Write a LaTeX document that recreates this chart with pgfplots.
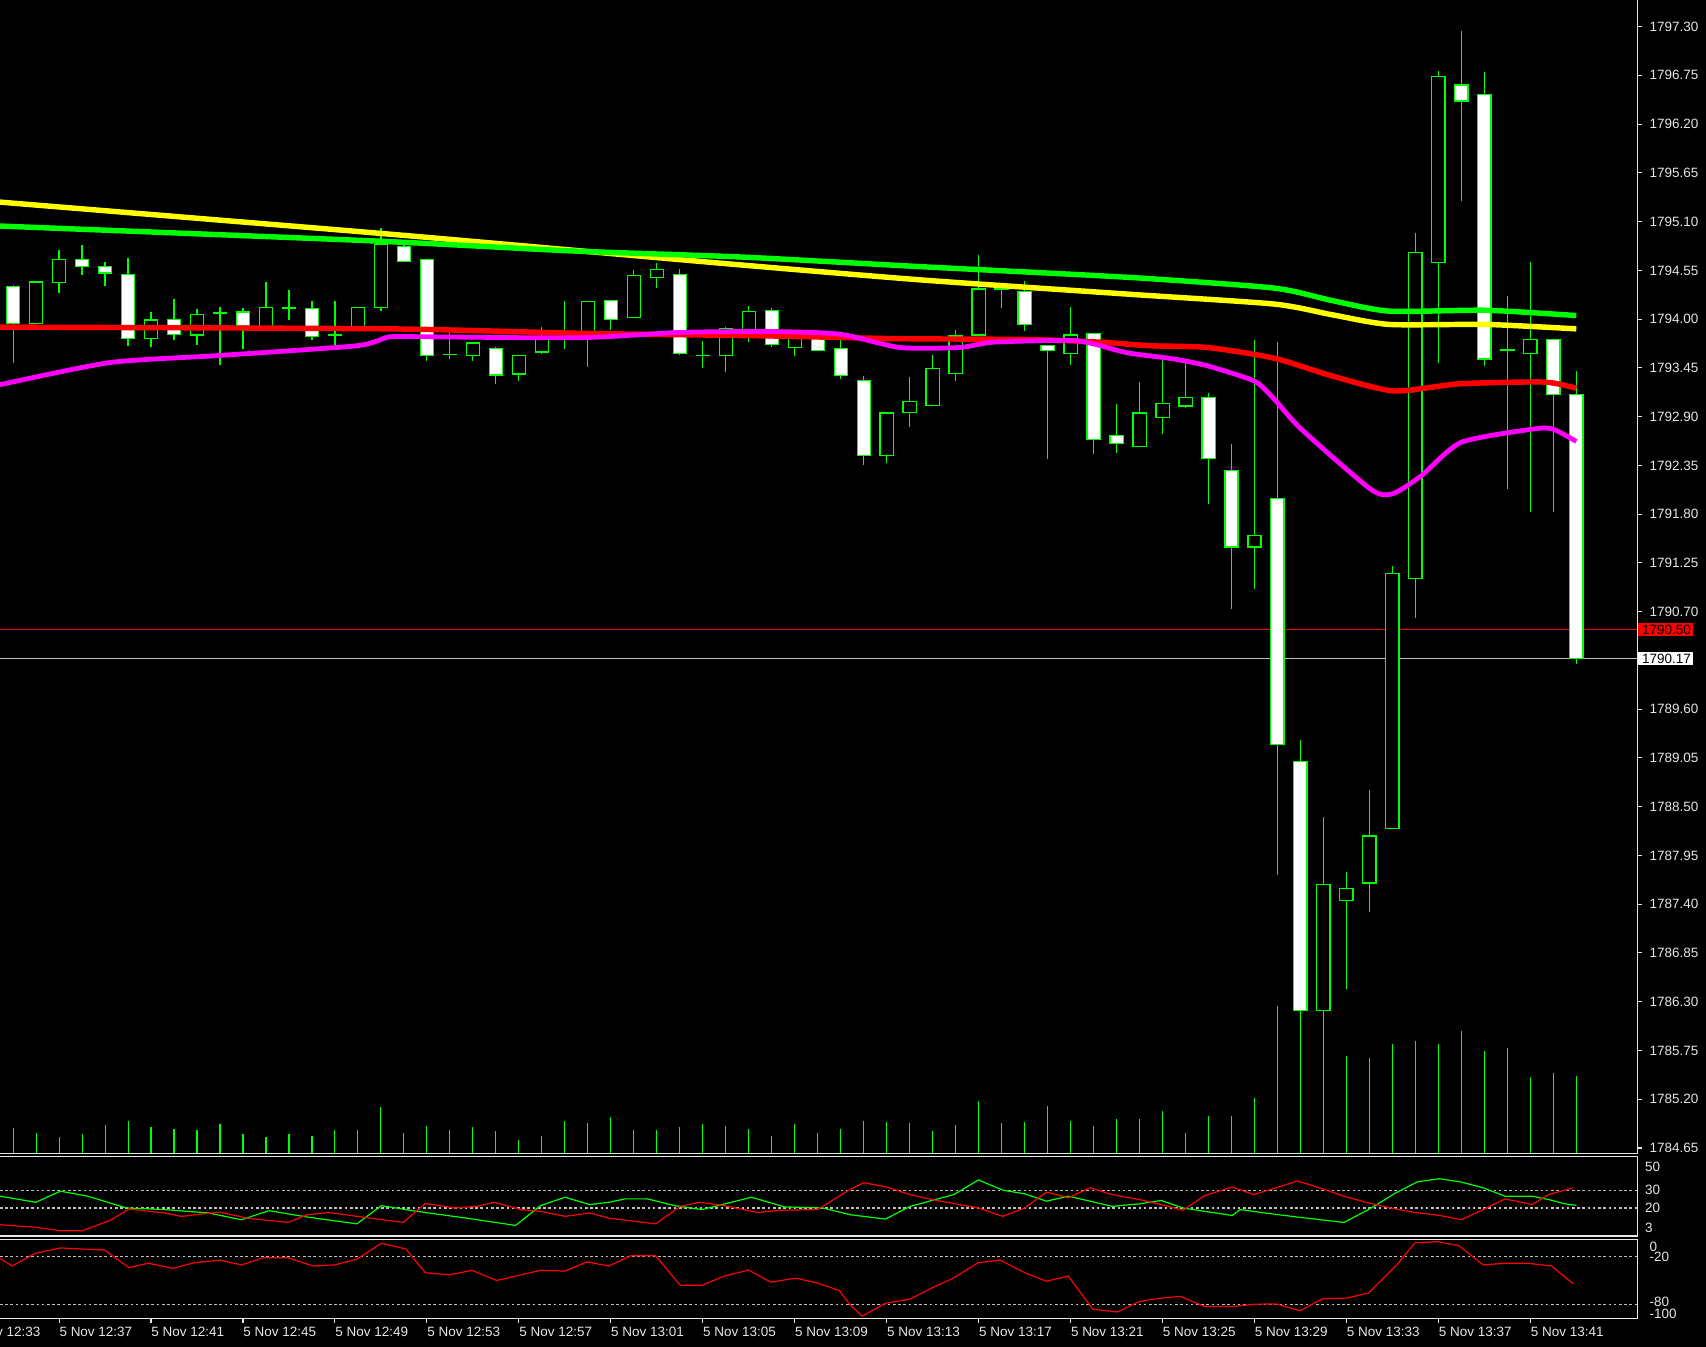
\documentclass[border=0pt]{standalone}
\usepackage{pgfplots}
\usepackage{pgfplotstable}
\pgfplotsset{compat=1.18}
\usepackage{fontspec}
\setmainfont{Liberation Sans}
\definecolor{lime}{RGB}{0,255,0}
\definecolor{yel}{RGB}{255,255,0}
\definecolor{mag}{RGB}{255,0,255}
\definecolor{fg}{RGB}{230,230,230}
\definecolor{lgray}{RGB}{192,192,192}
\newcommand\tfont{\fontsize{6.2}{7}\selectfont}
\pgfplotstableread{
i O H L C
1 1793.95 1794.42 1793.95 1794.42
2 1794.41 1794.78 1794.30 1794.67
6 1793.78 1794.08 1793.68 1793.99
8 1793.82 1794.11 1793.71 1794.05
9 1794.07 1794.14 1793.48 1794.07
11 1793.92 1794.42 1793.92 1794.13
12 1794.12 1794.33 1793.99 1794.13
14 1793.82 1794.20 1793.71 1793.83
15 1793.90 1794.14 1793.90 1794.13
16 1794.13 1795.03 1794.09 1794.84
19 1793.60 1793.84 1793.55 1793.60
20 1793.59 1793.73 1793.53 1793.73
22 1793.38 1793.59 1793.30 1793.59
23 1793.63 1793.91 1793.61 1793.77
24 1793.80 1794.21 1793.66 1793.85
25 1793.83 1794.20 1793.46 1794.20
27 1794.02 1794.55 1794.02 1794.49
28 1794.47 1794.63 1794.35 1794.56
30 1793.59 1793.75 1793.45 1793.59
31 1793.59 1793.91 1793.40 1793.89
32 1793.88 1794.15 1793.74 1794.09
34 1793.68 1793.85 1793.58 1793.79
38 1792.46 1792.94 1792.38 1792.94
39 1792.95 1793.35 1792.78 1793.07
40 1793.03 1793.59 1793.03 1793.44
41 1793.39 1793.88 1793.30 1793.81
42 1793.82 1794.72 1793.82 1794.34
43 1794.33 1794.36 1794.12 1794.34
46 1793.61 1794.14 1793.48 1793.82
49 1792.56 1793.29 1792.56 1792.94
50 1792.89 1793.55 1792.70 1793.05
51 1793.02 1793.52 1793.00 1793.12
54 1791.43 1793.76 1790.96 1791.56
57 1786.20 1788.38 1786.18 1787.62
58 1787.44 1787.76 1786.44 1787.58
59 1787.64 1788.69 1787.31 1788.17
60 1788.25 1791.22 1788.25 1791.13
61 1791.07 1794.97 1790.63 1794.75
62 1794.64 1796.80 1793.51 1796.74
65 1793.65 1794.26 1792.08 1793.66
66 1793.61 1794.64 1791.82 1793.77
}\bull
\pgfplotstableread{
i O H L C
0 1794.37 1794.38 1793.51 1793.95
3 1794.67 1794.84 1794.50 1794.59
4 1794.59 1794.64 1794.37 1794.52
5 1794.50 1794.69 1793.70 1793.78
7 1794.00 1794.23 1793.76 1793.83
10 1794.08 1794.13 1793.66 1793.93
13 1794.12 1794.20 1793.76 1793.80
17 1794.82 1794.85 1794.64 1794.65
18 1794.67 1794.67 1793.53 1793.59
21 1793.67 1793.69 1793.27 1793.37
26 1794.21 1794.21 1793.88 1794.00
29 1794.50 1794.57 1793.59 1793.61
33 1794.10 1794.12 1793.69 1793.71
35 1793.78 1793.88 1793.65 1793.65
36 1793.67 1793.77 1793.32 1793.36
37 1793.31 1793.36 1792.35 1792.46
44 1794.31 1794.43 1793.87 1793.94
45 1793.70 1793.71 1792.42 1793.65
47 1793.84 1793.84 1792.48 1792.64
48 1792.69 1793.04 1792.49 1792.60
52 1793.12 1793.17 1791.92 1792.43
53 1792.29 1792.59 1790.73 1791.43
55 1791.98 1793.74 1787.73 1789.20
56 1789.01 1789.25 1786.18 1786.20
63 1796.64 1797.25 1795.33 1796.46
64 1796.53 1796.79 1793.47 1793.55
67 1793.77 1793.77 1791.82 1793.15
68 1793.15 1793.41 1790.11 1790.17
}\bear
\pgfplotsset{panel/.style={scale only axis, anchor=south west, width=752.5pt,
  xmin=-0.57, xmax=70.66, axis line style={draw=none}, clip mode=individual,
  tick style={draw=fg, line width=0.5pt}, ticklabel style={font=\tfont, text=fg}},
  bar/.style 2 args={draw=none, mark=none, error bars/.cd, y dir=both, y explicit,
    error mark=none, error bar style={draw=#1, line width=#2, solid}}}
% wick, outer body, inner body for a table
\newcommand\drawcandles[2]{%
  \addplot[bar={lime}{0.55pt}] table[x=i, y=L, y error plus expr={\thisrow{H}-\thisrow{L}}, y error minus expr={0}] {#1};
  \addplot[bar={lime}{6.6pt}] table[x=i, y expr={min(\thisrow{O},\thisrow{C})-0.0068}, y error plus expr={abs(\thisrow{C}-\thisrow{O})+0.0136}, y error minus expr={0}] {#1};
  \addplot[bar={#2}{5.5pt}] table[x=i, y expr={min(\thisrow{O},\thisrow{C})+0.0068}, y error plus expr={max(abs(\thisrow{C}-\thisrow{O})-0.0136,0)}, y error minus expr={0}] {#1};
}
\begin{document}
\begin{tikzpicture}
\useasboundingbox (0,0) rectangle (784pt,619pt);
\fill[black] (0,0) rectangle (784pt,619pt);
% ---------- volume ----------
\begin{axis}[panel, at={(0pt,89pt)}, height=530pt, ymin=0, ymax=1060, hide axis]
\addplot[ycomb, draw=lime, line width=0.5pt, mark=none] table {
x v
0 23
1 19
2 14.7
3 17.8
4 25.7
5 29.7
6 24.2
7 22.7
8 21.4
9 27
10 17.8
11 14.7
12 17.8
13 15.9
14 21.4
15 21.4
16 42.9
17 19
18 25.1
19 21.4
20 23.9
21 20.5
22 12.3
23 15.9
24 29.7
25 28.2
26 33.1
27 21.4
28 21.4
29 23.9
30 27
31 25.1
32 22.7
33 15.9
34 27
35 19
36 22.7
37 30
38 29.1
39 27.6
40 20.8
41 26.3
42 48
43 27.6
44 29.1
45 43.8
46 30
47 24.8
48 31.6
49 31.6
50 39.2
51 18.4
52 34.3
53 34.3
54 50.5
55 135
56 132
57 132
58 89
59 88
60 100
61 103.5
62 100
63 112.7
64 94
65 97
66 70
67 74
68 71
};
\end{axis}
% ---------- price ----------
\begin{axis}[panel, at={(0pt,89pt)}, height=530pt, ymin=1784.59, ymax=1797.60,
  xtick=\empty, ytick pos=right, yticklabel pos=right, tick align=outside, major tick length=2pt,
  ytick={1784.65,1785.20,1785.75,1786.30,1786.85,1787.40,1787.95,1788.50,1789.05,1789.60,1790.70,1791.25,1791.80,1792.35,1792.90,1793.45,1794.00,1794.55,1795.10,1795.65,1796.20,1796.75,1797.30},
  yticklabels={1784.65,1785.20,1785.75,1786.30,1786.85,1787.40,1787.95,1788.50,1789.05,1789.60,1790.70,1791.25,1791.80,1792.35,1792.90,1793.45,1794.00,1794.55,1795.10,1795.65,1796.20,1796.75,1797.30}]
\addplot[red, line width=0.5pt] coordinates {(-0.57,1790.50) (70.66,1790.50)};
\addplot[lgray, line width=0.5pt] coordinates {(-0.57,1790.17) (70.66,1790.17)};
\drawcandles{\bull}{black}
\drawcandles{\bear}{white}
% moving averages
\addplot[yel, line width=2.5pt, line join=round, smooth, tension=0.4] coordinates {(-0.57,1795.32) (15.85,1794.97) (23.80,1794.79) (31.71,1794.61) (39.61,1794.44) (48.60,1794.28) (54.85,1794.17) (57.36,1794.05) (59.87,1793.94) (64.08,1793.94) (68,1793.89)};
\addplot[lime, line width=2.5pt, line join=round, smooth, tension=0.4] coordinates {(-0.57,1795.05) (15.85,1794.88) (24.23,1794.77) (31.71,1794.70) (39.61,1794.59) (48.60,1794.47) (54.85,1794.35) (57.36,1794.21) (59.87,1794.09) (64.08,1794.10) (68,1794.04)};
\addplot[red, line width=2.5pt, line join=round, smooth, tension=0.4] coordinates {(-0.57,1793.91) (16.38,1793.89) (24.66,1793.84) (32.94,1793.81) (38.29,1793.78) (44.11,1793.77) (47.28,1793.74) (49.45,1793.70) (51.96,1793.68) (54.85,1793.56) (57.36,1793.36) (60.06,1793.19) (62.90,1793.27) (66.59,1793.29) (68,1793.22)};
\addplot[mag, line width=2.2pt, line join=round, smooth, tension=0.4] coordinates {(-0.57,1793.26) (4.21,1793.51) (8.99,1793.59) (14.96,1793.70) (16.38,1793.80) (18.13,1793.80) (24.66,1793.79) (29.01,1793.85) (32.94,1793.86) (35.97,1793.83) (38.57,1793.68) (41.17,1793.68) (42.64,1793.74) (45.95,1793.76) (47.0,1793.72) (48.47,1793.62) (50.5,1793.55) (52.0,1793.47) (54.0,1793.30) (54.85,1793.10) (56.03,1792.76) (59.06,1792.08) (60.01,1792.03) (61.24,1792.23) (62.99,1792.61) (66.12,1792.76) (66.97,1792.76) (68,1792.62)};
\draw[fg, line width=0.5pt] (rel axis cs:0,0) -- (rel axis cs:1,0) -- (rel axis cs:1,1);
\node[fill=red, text=black, font=\tfont, inner sep=0.9pt, anchor=west] at (axis cs:70.66,1790.50) {\hspace{1pt}1790.50\hspace{1pt}};
\node[fill=white, text=black, font=\tfont, inner sep=0.9pt, anchor=west] at (axis cs:70.66,1790.17) {\hspace{1pt}1790.17\hspace{1pt}};
\end{axis}
% ---------- ADX / DI panel ----------
\begin{axis}[panel, at={(0pt,51pt)}, height=36.5pt, ymin=4.3, ymax=48.8,
  xtick=\empty, ytick pos=right, yticklabel pos=right, major tick length=0pt,
  ytick={8.6,20,30,43.1}, yticklabels={3,20,30,50}]
\addplot[lgray, line width=0.5pt, dash pattern=on 1.2pt off 1.2pt] coordinates {(-0.57,30) (70.66,30)};
\addplot[lgray, line width=0.5pt, dash pattern=on 1.2pt off 1.2pt] coordinates {(-0.57,20) (70.66,20)};
\addplot[lime, line width=0.55pt] coordinates {(-0.57,26.6) (0.99,23.2) (2.06,29.4) (3.25,26.6) (4.92,20.0) (6.59,19.1) (8.50,17.2) (9.93,13.4) (11.13,18.5) (12.80,14.9) (14.95,11.1) (16.02,21.3) (17.57,18.1) (19.72,14.3) (21.86,10.2) (22.94,21.3) (24.01,26.0) (25.08,21.9) (25.92,23.2) (26.63,25.1) (27.59,25.1) (28.78,21.3) (29.97,19.1) (32.12,26.0) (33.55,20.6) (35.22,20.0) (36.41,16.2) (37.95,13.8) (39.02,20.9) (39.97,24.2) (40.92,27.5) (41.99,35.7) (43.05,30.0) (44.01,27.9) (44.95,23.8) (45.90,26.6) (46.85,23.8) (47.80,20.9) (48.99,22.3) (49.94,24.2) (50.89,20.0) (51.84,18.1) (53.03,15.8) (53.38,19.1) (54.45,17.2) (55.88,14.9) (57.89,11.9) (58.96,19.1) (60.15,28.5) (61.10,34.7) (62.05,36.4) (63.00,34.5) (63.95,31.3) (64.90,26.6) (66.08,26.6) (66.80,24.7) (67.51,22.3) (68,21.5)};
\addplot[red, line width=0.55pt] coordinates {(-0.57,10.6) (0.99,9.2) (2.06,7.2) (3.01,7.2) (4.21,13.0) (5.04,19.4) (6.59,17.2) (7.31,15.3) (8.98,17.7) (10.17,14.3) (11.96,11.9) (12.80,16.2) (13.75,17.5) (14.95,15.3) (16.97,11.9) (17.93,22.5) (19.24,20.0) (20.19,20.9) (20.91,23.2) (22.10,19.1) (22.94,18.1) (24.01,15.3) (25.08,17.2) (25.92,14.3) (27.95,11.1) (29.02,20.9) (29.86,23.2) (30.93,21.3) (32.36,17.5) (33.32,18.7) (34.99,19.1) (36.41,30.4) (37.0,34.2) (37.95,31.9) (39.02,27.5) (39.97,24.7) (40.92,22.5) (41.99,20.0) (43.05,15.3) (44.01,20.0) (44.95,28.9) (45.90,25.7) (46.85,31.3) (47.80,27.5) (48.99,24.7) (49.94,21.9) (50.89,18.7) (51.84,27.0) (53.03,31.7) (53.98,27.5) (54.93,31.3) (55.88,35.1) (56.83,31.3) (57.89,26.6) (58.96,22.8) (59.91,20.0) (60.86,17.7) (62.05,15.8) (63.00,13.4) (63.95,19.1) (64.90,25.1) (66.08,21.9) (66.80,27.5) (67.87,31.3)};
\draw[fg, line width=0.5pt] (rel axis cs:0,0) -- (rel axis cs:1,0) -- (rel axis cs:1,1) -- (rel axis cs:0,1);
\end{axis}
% ---------- Williams %R panel ----------
\begin{axis}[panel, at={(0pt,13pt)}, height=36.5pt, ymin=-97.5, ymax=0.9,
  ytick pos=right, yticklabel pos=right, ytick style={draw=none},
  ytick={-92,-76.5,-21.5,-8.5}, yticklabels={-100,-80,-20,0},
  xtick pos=bottom, tick align=outside, major tick length=2pt,
  xtick={2,6,10,14,18,22,26,30,34,38,42,46,50,54,58,62,66},
  xticklabels={5 Nov 12:37,5 Nov 12:41,5 Nov 12:45,5 Nov 12:49,5 Nov 12:53,5 Nov 12:57,5 Nov 13:01,5 Nov 13:05,5 Nov 13:09,5 Nov 13:13,5 Nov 13:17,5 Nov 13:21,5 Nov 13:25,5 Nov 13:29,5 Nov 13:33,5 Nov 13:37,5 Nov 13:41},
  xticklabel style={anchor=north west, inner sep=0pt, yshift=-1.5pt}]
\addplot[lgray, line width=0.5pt, dash pattern=on 1.2pt off 1.2pt] coordinates {(-0.57,-20) (70.66,-20)};
\addplot[lgray, line width=0.5pt, dash pattern=on 1.2pt off 1.2pt] coordinates {(-0.57,-80) (70.66,-80)};
\addplot[red, line width=0.55pt] coordinates {(-0.57,-22.9) (-0.04,-32.2) (0.99,-16.2) (2.06,-9.9) (3.01,-11.2) (3.97,-12.4) (5.04,-34.3) (5.88,-28.8) (6.95,-35.1) (7.91,-28.0) (8.98,-25.0) (9.93,-30.9) (10.89,-22.1) (11.96,-22.1) (13.04,-32.2) (13.99,-30.9) (14.95,-23.8) (16.02,-4.1) (17.09,-11.2) (17.93,-40.6) (19.00,-43.1) (19.96,-37.6) (21.03,-50.2) (21.86,-44.8) (22.94,-37.6) (24.01,-38.5) (24.97,-27.1) (25.92,-32.2) (26.87,-19.6) (27.95,-19.6) (29.02,-56.1) (29.97,-56.1) (30.93,-44.8) (32.00,-37.2) (32.96,-52.3) (34.03,-47.3) (34.99,-53.2) (35.94,-62.8) (36.41,-80.4) (36.93,-94.3) (37.95,-78.3) (39.02,-73.3) (39.97,-59.4) (40.92,-46.9) (41.99,-28.0) (42.94,-25.0) (44.01,-40.6) (44.95,-51.1) (45.90,-44.8) (46.97,-85.9) (48.04,-89.2) (48.99,-76.2) (49.94,-72.0) (50.77,-69.9) (51.84,-82.5) (53.03,-82.5) (53.98,-79.6) (54.93,-79.2) (55.99,-87.6) (56.95,-72.9) (58.01,-72.0) (58.96,-65.7) (60.15,-32.2) (60.98,-3.6) (61.93,-2.0) (62.88,-7.0) (63.95,-30.9) (64.90,-28.8) (65.85,-28.8) (66.92,-32.2) (67.87,-54.4)};
\draw[fg, line width=0.5pt] (rel axis cs:0,0) -- (rel axis cs:1,0) -- (rel axis cs:1,1) -- (rel axis cs:0,1);
\node[anchor=north west, inner sep=0pt, font=\tfont, text=fg, yshift=-3.5pt] at (axis cs:-2,-97.5) {5 Nov 12:33};
\end{axis}
\end{tikzpicture}
\end{document}
